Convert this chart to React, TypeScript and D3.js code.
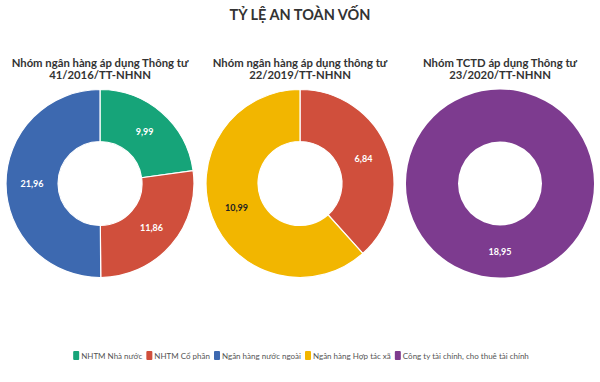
import React, { useEffect, useRef } from "react";
import * as d3 from "d3";

const mainTitle = "TỶ LỆ AN TOÀN VỐN";
const categories = [
  "NHTM Nhà nước",
  "NHTM Cổ phần",
  "Ngân hàng nước ngoài",
  "Ngân hàng Hợp tác xã",
  "Công ty tài chính, cho thuê tài chính",
];
const colors = ["#16a479", "#d04f3c", "#3d69b0", "#f2b600", "#7d3b8f"];

const chart1Title = ["Nhóm ngân hàng áp dụng Thông tư", "41/2016/TT-NHNN"];
const chart1Cats = [0, 1, 2];
const chart1Values = [9.99, 11.86, 21.96];

const chart2Title = ["Nhóm ngân hàng áp dụng thông tư", "22/2019/TT-NHNN"];
const chart2Cats = [1, 3];
const chart2Values = [6.84, 10.99];

const chart3Title = ["Nhóm TCTD áp dụng Thông tư", "23/2020/TT-NHNN"];
const chart3Cats = [4];
const chart3Values = [18.95];

const FONT = "Lato, 'Open Sans', sans-serif";

export default function App() {
  const ref = useRef<SVGSVGElement>(null);
  useEffect(() => {
    const svg = d3.select(ref.current);
    svg.selectAll("*").remove();
    const W = 600, H = 382;
    svg.append("rect").attr("width", W).attr("height", H).attr("fill", "#fff");

    svg.append("text")
      .attr("x", 300).attr("y", 20)
      .attr("text-anchor", "middle")
      .attr("font-family", FONT)
      .attr("font-weight", 700)
      .attr("font-size", 14.5)
      .attr("fill", "#333")
      .text(mainTitle);

    const charts = [
      { title: chart1Title, cats: chart1Cats, values: chart1Values },
      { title: chart2Title, cats: chart2Cats, values: chart2Values },
      { title: chart3Title, cats: chart3Cats, values: chart3Values },
    ];
    const cxScale = d3.scalePoint<number>().domain([0, 1, 2]).range([100, 500]);
    const outerR = 94, innerR = 42, cy = 183.5;
    const arc = d3.arc<d3.PieArcDatum<number>>().innerRadius(innerR).outerRadius(outerR);
    const pie = d3.pie<number>().sort(null).value((d) => d);

    charts.forEach((c, i) => {
      const cx = cxScale(i)!;
      const g = svg.append("g");
      c.title.forEach((line, li) => {
        g.append("text")
          .attr("x", cx).attr("y", 66.5 + li * 12)
          .attr("text-anchor", "middle")
          .attr("font-family", FONT)
          .attr("font-weight", 700)
          .attr("font-size", 11.3)
          .attr("fill", "#333")
          .text(line);
      });
      const pg = g.append("g").attr("transform", `translate(${cx},${cy})`);
      const arcs = pie(c.values);
      pg.selectAll("path.s").data(arcs).enter().append("path")
        .attr("d", arc as any)
        .attr("fill", (d, j) => colors[c.cats[j]])
        .attr("stroke", "#fff")
        .attr("stroke-width", arcs.length > 1 ? 1.2 : 0);
      pg.selectAll("text.l").data(arcs).enter().append("text")
        .attr("transform", (d) => `translate(${arc.centroid(d)})`)
        .attr("text-anchor", "middle")
        .attr("dy", "0.35em")
        .attr("font-family", FONT)
        .attr("font-weight", 700)
        .attr("font-size", 9)
        .attr("fill", (d, j) => (c.cats[j] === 3 ? "#222" : "#fff"))
        .text((d) => d3.format(".2f")(d.data).replace(".", ","));
    });

    // legend
    const lg = svg.append("g");
    let x = 0;
    categories.forEach((cat, i) => {
      const ig = lg.append("g").attr("transform", `translate(${x},0)`);
      ig.append("rect").attr("x", 0).attr("y", -5).attr("width", 6).attr("height", 9)
        .attr("rx", 1).attr("fill", colors[i]);
      const t = ig.append("text").attr("x", 8).attr("y", 3)
        .attr("font-family", FONT).attr("font-size", 8).attr("fill", "#555").text(cat);
      const w = 8 + (t.node() as SVGTextElement).getComputedTextLength();
      x += w + 4;
    });
    const total = x - 4;
    lg.attr("transform", `translate(${(W - total) / 2 + 1},356)`);
  }, []);
  return (
    <svg ref={ref} width={600} height={382}
      style={{ position: "absolute", left: 0, top: 0, display: "block" }} />
  );
}
